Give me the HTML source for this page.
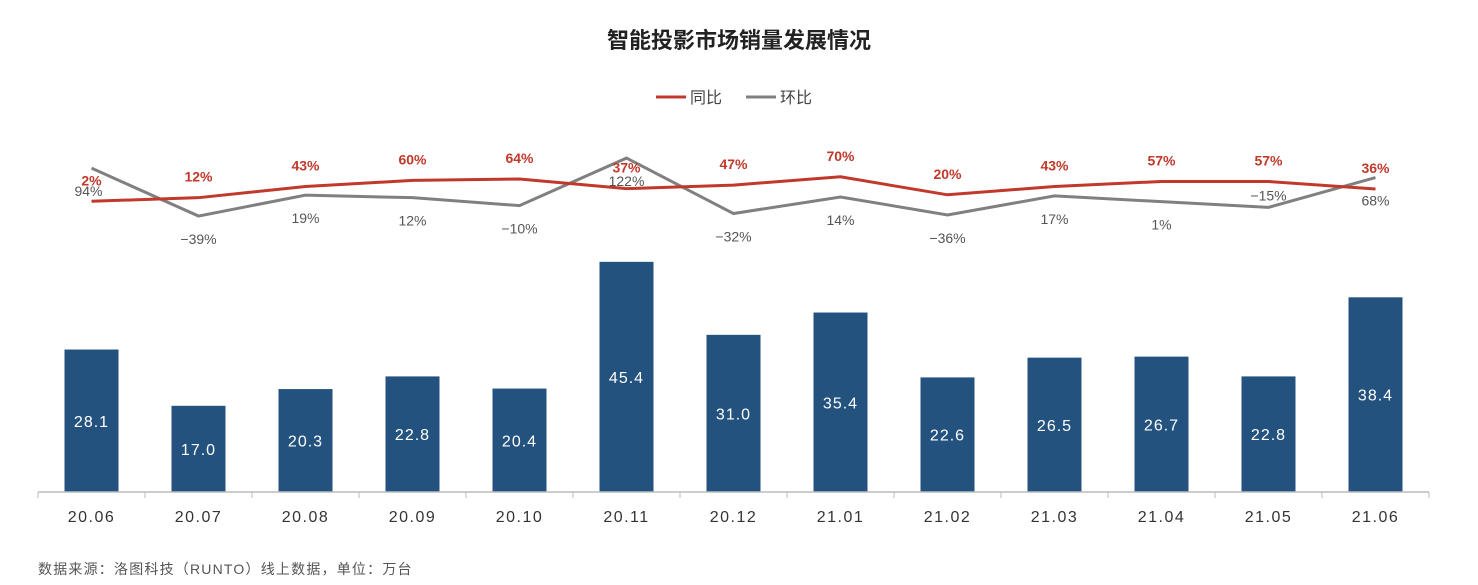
<!DOCTYPE html>
<html><head><meta charset="utf-8">
<style>
body{margin:0;background:#fff;width:1478px;height:580px;overflow:hidden;font-family:"Liberation Sans","Noto Sans CJK SC",sans-serif;}
</style></head>
<body>
<svg id="chart" width="1478" height="580" xmlns="http://www.w3.org/2000/svg" style="font-family:'Liberation Sans','Noto Sans CJK SC',sans-serif">
<text x="739" y="48" text-anchor="middle" font-size="22" font-weight="bold" fill="#222">智能投影市场销量发展情况</text>
<g>
<line x1="656" y1="97" x2="686" y2="97" stroke="#c0392b" stroke-width="3"/>
<text x="690" y="103" font-size="16" fill="#444">同比</text>
<line x1="746" y1="97" x2="776" y2="97" stroke="#808080" stroke-width="3"/>
<text x="780" y="103" font-size="16" fill="#444">环比</text>
</g>
<g id="bars"></g>
<g id="axis"></g>
<g id="lines"></g>
<text x="38" y="574" font-size="14" letter-spacing="1.2" fill="#555">数据来源：洛图科技（RUNTO）线上数据，单位：万台</text>
</svg>
<script>
const categories=["20.06","20.07","20.08","20.09","20.10","20.11","20.12","21.01","21.02","21.03","21.04","21.05","21.06"];
const sales=[28.1,17.0,20.3,22.8,20.4,45.4,31.0,35.4,22.6,26.5,26.7,22.8,38.4];
const yoy=[2,12,43,60,64,37,47,70,20,43,57,57,36];
const mom=[94,-39,19,12,-10,122,-32,14,-36,17,1,-15,68];
const NS="http://www.w3.org/2000/svg";
const x0=38,step=107,base=492;
const xc=i=>x0+step*(i+0.5);
const yb=v=>base-v*5.07;
const yl=v=>202-v*0.36;
function mk(t,a,p){const e=document.createElementNS(NS,t);for(const k in a)e.setAttribute(k,a[k]);p.appendChild(e);return e;}
const gb=document.getElementById('bars'),ga=document.getElementById('axis'),gl=document.getElementById('lines');
sales.forEach((v,i)=>{
 const r=mk('rect',{x:xc(i)-27,y:yb(v),width:54,height:base-yb(v),fill:'#24527f'},gb);
 
 
 const t=mk('text',{x:xc(i),y:(yb(v)+base)/2+6,'text-anchor':'middle','font-size':16,'letter-spacing':1,fill:'#fff'},gb);
 
 
 t.textContent=v.toFixed(1);
 const c=mk('text',{x:xc(i),y:522,'text-anchor':'middle','font-size':16,'letter-spacing':1.5,fill:'#333'},ga);
 
 
 c.textContent=categories[i];
});
const ax=mk('line',{x1:x0,y1:base,x2:x0+step*categories.length,y2:base,stroke:'#bbb','stroke-width':1.5},ga);


for(let i=0;i<=categories.length;i++){mk('line',{x1:x0+step*i,y1:base,x2:x0+step*i,y2:base+6,stroke:'#bbb'},ga);}
const pm=mk('polyline',{points:mom.map((v,i)=>xc(i)+','+yl(v)).join(' '),fill:'none',stroke:'#808080','stroke-width':3},gl);


const py=mk('polyline',{points:yoy.map((v,i)=>xc(i)+','+yl(v)).join(' '),fill:'none',stroke:'#c0392b','stroke-width':3},gl);


yoy.forEach((v,i)=>{
 const t=mk('text',{x:xc(i),y:yl(v)-16,'text-anchor':'middle','font-size':14,'font-weight':'bold',fill:'#c0392b'},gl);
 
 
 t.textContent=v+'%';
});
mom.forEach((v,i)=>{
 const above=(i==11);
 const t=mk('text',{x:xc(i)+(i==0?-3:0),y:above?yl(v)-7:yl(v)+28,'text-anchor':'middle','font-size':14,fill:'#555'},gl);
 
 
 t.textContent=(v<0?'−'+(-v):v)+'%';
});
</script>
</body></html>
